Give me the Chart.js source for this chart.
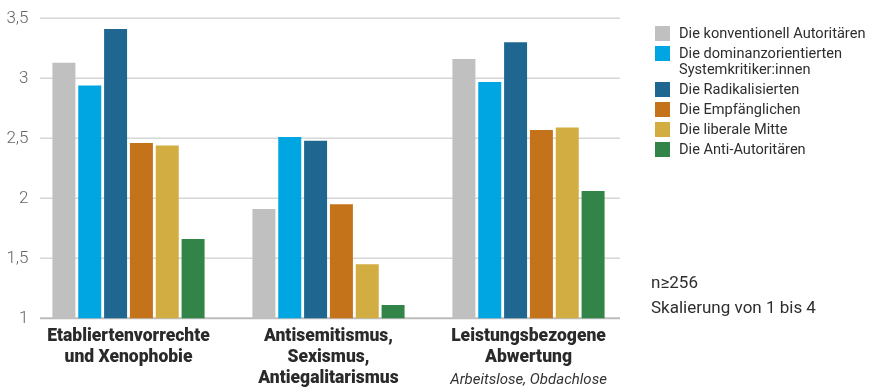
<!DOCTYPE html>
<html>
<head>
<meta charset="utf-8">
<script src="https://cdn.jsdelivr.net/npm/chart.js@4"></script>
<style>
  html, body { margin: 0; padding: 0; background: #fff; }
  #wrap { position: relative; width: 878px; height: 389px; font-family: Roboto, "Noto Sans", sans-serif; }
  #chart { position: absolute; left: 0; top: 0; }
  .legend { position: absolute; left: 655px; top: 25px; color: #2e2e2e; font-size: 14.6px; font-weight: 400; }
  .legend .item { position: relative; padding-left: 24px; line-height: 16px; margin-bottom: 4px; }
  .legend .box { position: absolute; left: 0; top: 1px; width: 15px; height: 15px; }
  .note { position: absolute; left: 651px; top: 270px; color: #2e2e2e; font-size: 17px; line-height: 25px; }
</style>
</head>
<body>
<div id="wrap">
  <canvas id="chart" width="878" height="389"></canvas>
  <div class="legend" id="legend"></div>
  <div class="note">n≥256<br>Skalierung von 1 bis 4</div>
</div>
<script>
/* global Chart */

var categories = [
    ['Etabliertenvorrechte', 'und Xenophobie'],
    ['Antisemitismus,', 'Sexismus,', 'Antiegalitarismus'],
    ['Leistungsbezogene', 'Abwertung'],
];
var subLabels = ['', '', 'Arbeitslose, Obdachlose'];

var seriesNames = [
    'Die konventionell Autoritären',
    ['Die dominanzorientierten', 'Systemkritiker:innen'],
    'Die Radikalisierten',
    'Die Empfänglichen',
    'Die liberale Mitte',
    'Die Anti-Autoritären',
];
var seriesColors = ['#c0c0c0', '#00a6e2', '#1f6791', '#c4731a', '#d2ad41', '#338448'];

var konventionell = [3.13, 1.91, 3.16];
var dominanz = [2.94, 2.51, 2.97];
var radikalisiert = [3.41, 2.48, 3.30];
var empfaenglich = [2.46, 1.95, 2.57];
var liberal = [2.44, 1.45, 2.59];
var antiAutoritaer = [1.66, 1.11, 2.06];

var yTicks = [1, 1.5, 2, 2.5, 3, 3.5];

var allSeries = [konventionell, dominanz, radikalisiert, empfaenglich, liberal, antiAutoritaer];

var gridPlugin = {
    id: 'gridLines',
    beforeDatasetsDraw(chart) {
        const ctx = chart.ctx;
        const y = chart.scales.y;
        ctx.save();
        yTicks.forEach(v => {
            const py = y.getPixelForValue(v);
            ctx.beginPath();
            ctx.strokeStyle = v === 1 ? '#bcbcbc' : '#d6d6d6';
            ctx.lineWidth = v === 1 ? 2 : 1.5;
            ctx.moveTo(40, py);
            ctx.lineTo(620, py);
            ctx.stroke();
        });
        ctx.restore();
    },
    afterDraw(chart) {
        const ctx = chart.ctx;
        const x = chart.scales.x;
        ctx.save();
        ctx.font = 'italic 400 15px Roboto, "Noto Sans", sans-serif';
        ctx.fillStyle = '#333';
        ctx.textAlign = 'center';
        ctx.textBaseline = 'middle';
        subLabels.forEach((t, i) => {
            if (t) ctx.fillText(t, x.getPixelForValue(i), chart.chartArea.bottom + 62);
        });
        ctx.restore();
    },
};

var legendEl = document.getElementById('legend');
seriesNames.forEach((name, i) => {
    const item = document.createElement('div');
    item.className = 'item';
    const box = document.createElement('span');
    box.className = 'box';
    box.style.background = seriesColors[i];
    item.appendChild(box);
    const txt = document.createElement('span');
    txt.innerHTML = Array.isArray(name) ? name.join('<br>') : name;
    item.appendChild(txt);
    legendEl.appendChild(item);
});

new Chart(document.getElementById('chart'), {
    type: 'bar',
    data: {
        labels: categories,
        datasets: allSeries.map((d, i) => ({
            label: Array.isArray(seriesNames[i]) ? seriesNames[i].join(' ') : seriesNames[i],
            data: d,
            backgroundColor: seriesColors[i],
            borderWidth: 0,
            categoryPercentage: 0.775,
            barPercentage: 0.89,
        })),
    },
    options: {
        responsive: false,
        animation: false,
        layout: { padding: { left: 0, right: 249.5, top: 18.3, bottom: 0 } },
        plugins: { legend: { display: false }, tooltip: { enabled: false } },
        scales: {
            x: {
                grid: { display: false, drawTicks: false },
                border: { display: false },
                ticks: {
                    color: '#2a2a2a',
                    font: { family: 'Roboto, "Noto Sans", sans-serif', size: 17.5, weight: 900, lineHeight: 1.2 },
                    padding: 8,
                    maxRotation: 0,
                    autoSkip: false,
                },
                afterFit: s => { s.height = 70.7; },
            },
            y: {
                min: 1,
                max: 3.5,
                grid: { display: false, drawTicks: false },
                border: { display: false },
                ticks: {
                    stepSize: 0.5,
                    padding: 0,
                    color: '#666',
                    font: { family: 'Roboto, "Noto Sans", sans-serif', size: 17, weight: 300 },
                    callback: v => String(v).replace('.', ','),
                },
                afterFit: s => { s.width = 28.5; },
            },
        },
    },
    plugins: [gridPlugin],
});
</script>
</body>
</html>
